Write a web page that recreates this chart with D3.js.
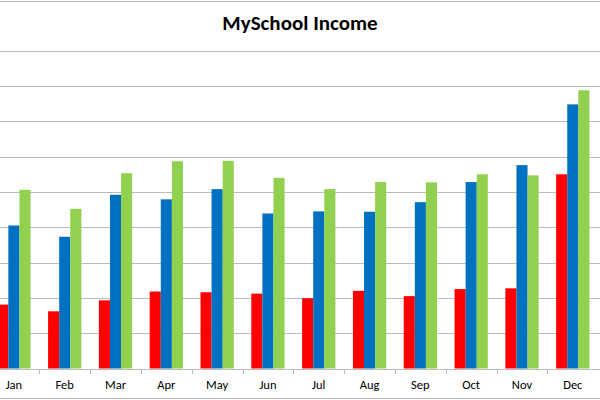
<!DOCTYPE html>
<html>
<head>
<meta charset="utf-8">
<script src="https://cdn.jsdelivr.net/npm/d3@7"></script>
<style>
  body { margin: 0; background: #fff; }
  svg { display: block; }
</style>
</head>
<body>
<div id="wrapper"></div>
<script>
const months = ["Jan", "Feb", "Mar", "Apr", "May", "Jun", "Jul", "Aug", "Sep", "Oct", "Nov", "Dec"]
const seriesNames = ["Series1", "Series2", "Series3"]
const series1 = [1.81, 1.62, 1.93, 2.18, 2.16, 2.12, 1.99, 2.20, 2.05, 2.25, 2.27, 5.50]
const series2 = [4.05, 3.73, 4.92, 4.79, 5.08, 4.39, 4.45, 4.44, 4.71, 5.28, 5.76, 7.48]
const series3 = [5.06, 4.52, 5.53, 5.87, 5.88, 5.40, 5.08, 5.28, 5.27, 5.50, 5.47, 7.88]
const gridValues = [1, 2, 3, 4, 5, 6, 7, 8, 9]
const colors = ["#ff0000", "#0070c0", "#92d050"]

const dataset = months.map((m, i) => ({
  month: m,
  values: [series1[i], series2[i], series3[i]],
}))

let dimensions = {
  width: 600,
  height: 400,
  plotLeft: -11.5,
  plotRight: 598.2,
  plotTop: 50.7,
  plotBottom: 368.5,
}

const wrapper = d3.select("#wrapper")
  .append("svg")
    .attr("width", dimensions.width)
    .attr("height", dimensions.height)

// chart border (sides are cropped away in the reference)
wrapper.append("line")
  .attr("x1", 0).attr("x2", dimensions.width)
  .attr("y1", 1.5).attr("y2", 1.5)
  .attr("stroke", "#bfbfbf")
wrapper.append("line")
  .attr("x1", 0).attr("x2", dimensions.width)
  .attr("y1", 398.5).attr("y2", 398.5)
  .attr("stroke", "#bfbfbf")

const xScale = d3.scaleBand()
  .domain(months)
  .range([dimensions.plotLeft, dimensions.plotRight])
  .padding(0)

const innerScale = d3.scaleBand()
  .domain(seriesNames)
  .range([0, xScale.bandwidth()])
  .paddingInner(0)
  .paddingOuter(0.79)

const yScale = d3.scaleLinear()
  .domain([0, 9])
  .range([dimensions.plotBottom, dimensions.plotTop])

// gridlines
wrapper.append("g")
  .selectAll("line")
  .data(gridValues)
  .join("line")
    .attr("x1", 0)
    .attr("x2", dimensions.width)
    .attr("y1", d => Math.round(yScale(d)) + 0.5)
    .attr("y2", d => Math.round(yScale(d)) + 0.5)
    .attr("stroke", "#bcbcbc")

// bars
const groups = wrapper.append("g")
  .selectAll("g")
  .data(dataset)
  .join("g")
    .attr("transform", d => `translate(${xScale(d.month)},0)`)

groups.selectAll("rect")
  .data(d => d.values.map((v, i) => ({ key: seriesNames[i], value: v, i })))
  .join("rect")
    .attr("x", d => innerScale(d.key))
    .attr("width", innerScale.bandwidth())
    .attr("y", d => yScale(d.value))
    .attr("height", d => yScale(0) - yScale(d.value))
    .attr("fill", d => colors[d.i])

// x axis
const xAxis = d3.axisBottom(xScale).tickSize(0).tickPadding(11)
const xAxisGroup = wrapper.append("g")
  .attr("transform", `translate(0,${Math.round(dimensions.plotBottom) + 0.5})`)
  .call(xAxis)
xAxisGroup.select(".domain")
  .attr("d", `M0,0H${dimensions.width}`)
  .attr("stroke", "#bcbcbc")
xAxisGroup.selectAll("text")
  .attr("font-family", "Carlito, Lato, 'Open Sans', sans-serif")
  .attr("font-size", 12.5)
  .attr("fill", "#000")

// category separator ticks
wrapper.append("g")
  .selectAll("line")
  .data(months.slice(1))
  .join("line")
    .attr("x1", d => Math.round(xScale(d)) + 0.5)
    .attr("x2", d => Math.round(xScale(d)) + 0.5)
    .attr("y1", Math.round(dimensions.plotBottom))
    .attr("y2", Math.round(dimensions.plotBottom) + 5)
    .attr("stroke", "#bcbcbc")

// title
wrapper.append("text")
  .attr("x", 300)
  .attr("y", 30)
  .attr("text-anchor", "middle")
  .attr("font-family", "Carlito, Lato, 'Open Sans', sans-serif")
  .attr("font-weight", "bold")
  .attr("font-size", 21)
  .attr("fill", "#000")
  .text("MySchool Income")
</script>
</body>
</html>
